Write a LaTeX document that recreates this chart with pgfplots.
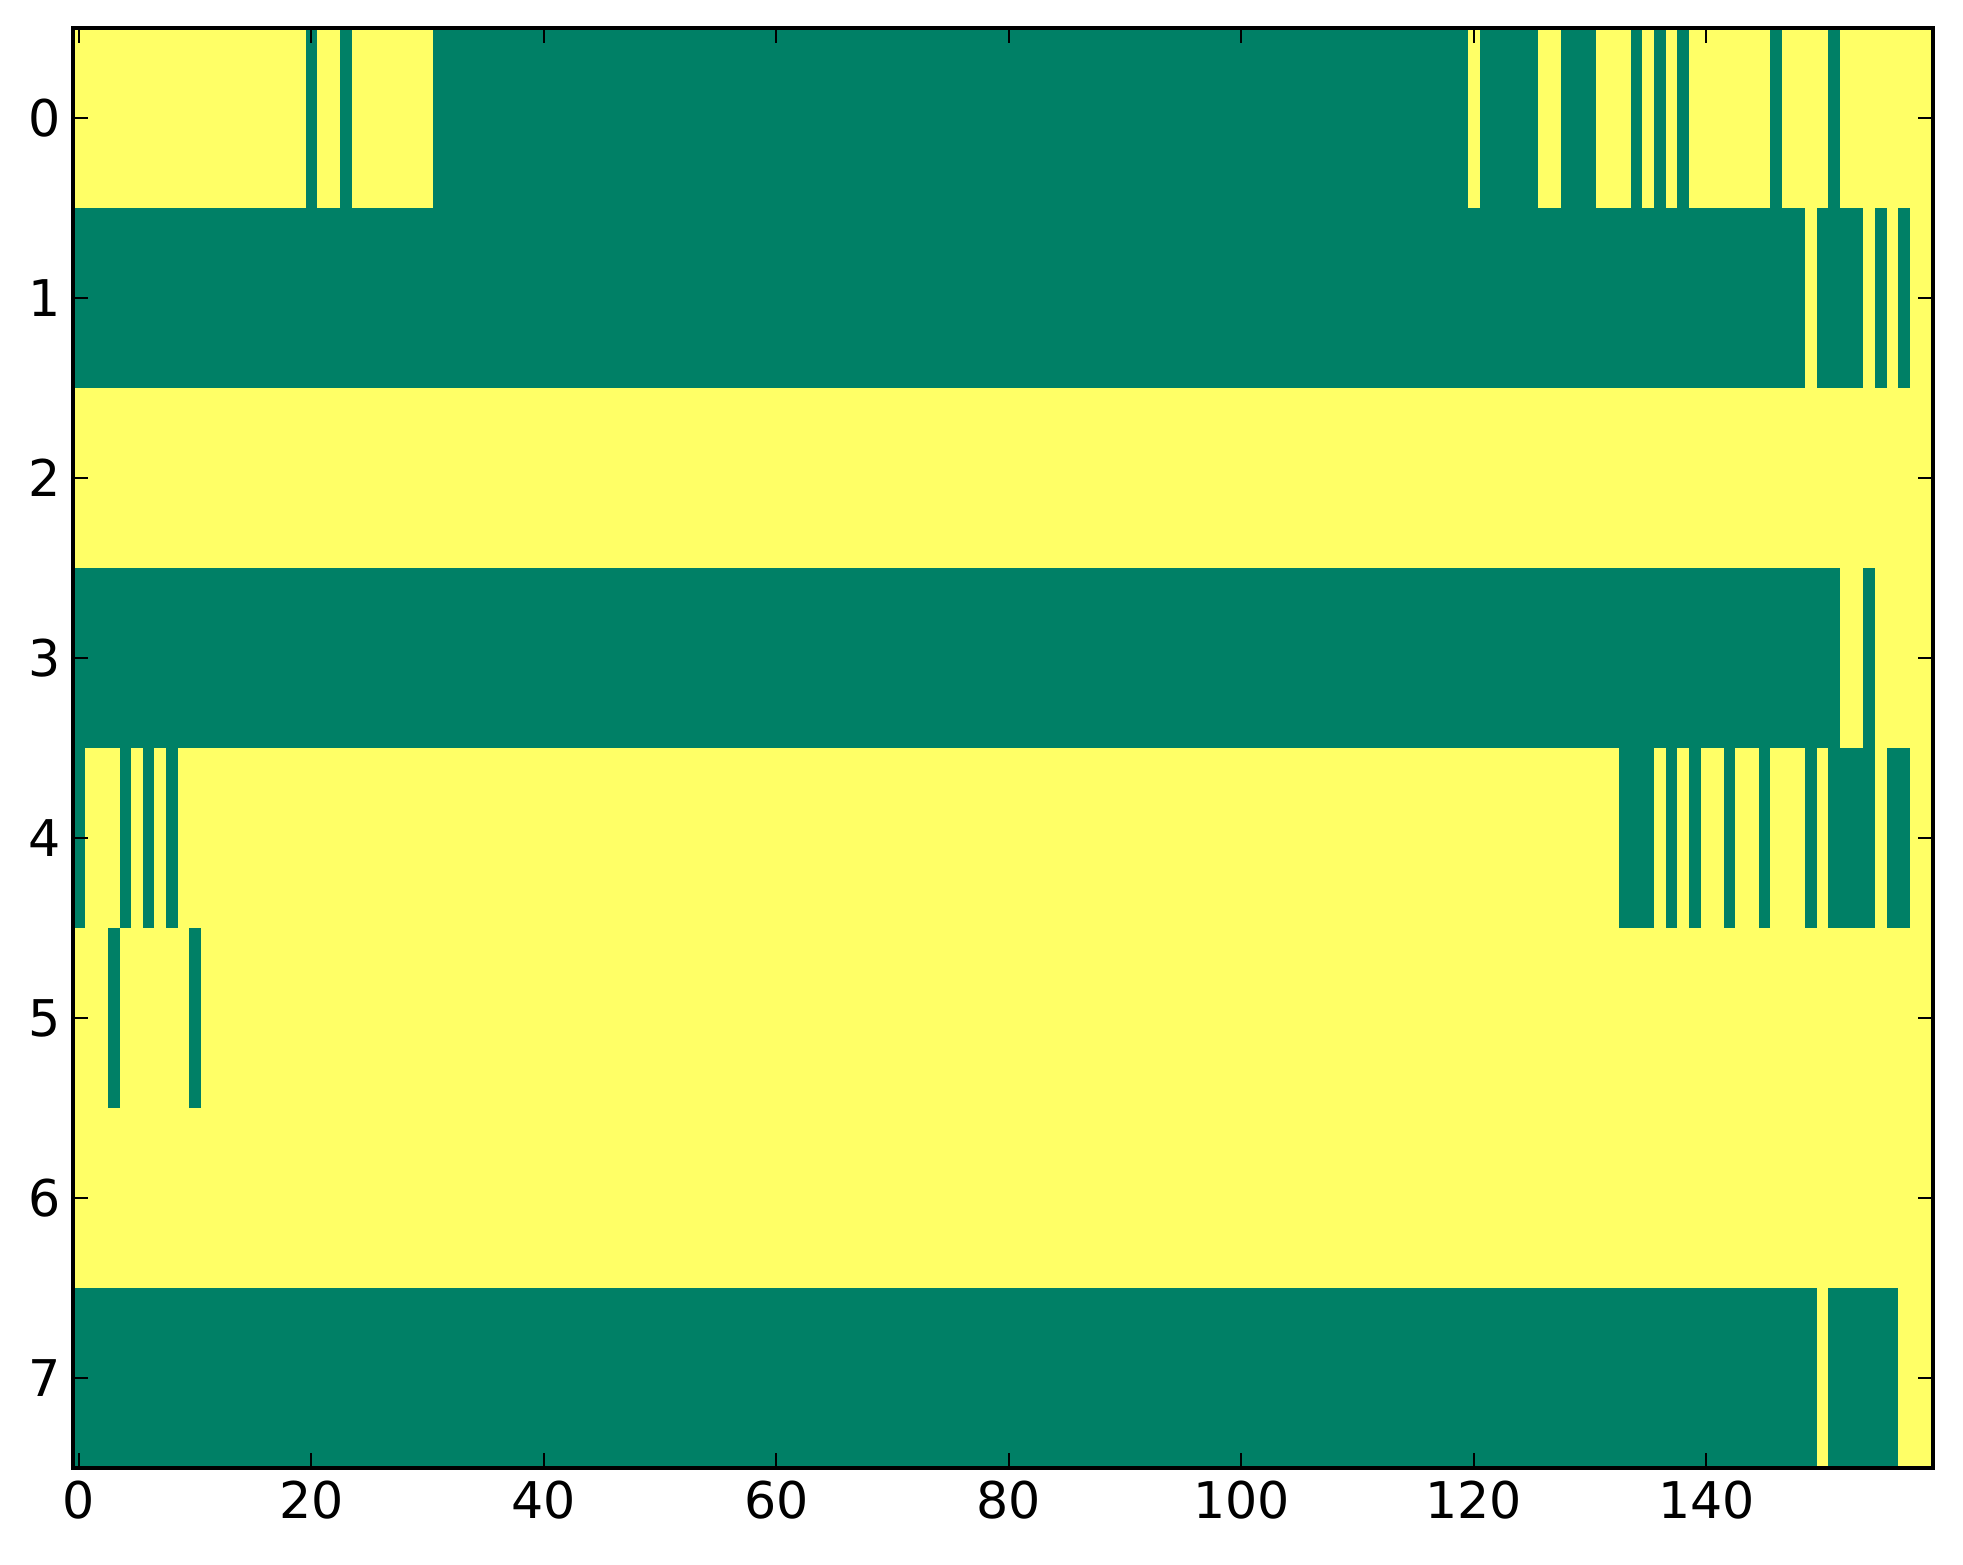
\documentclass[border=0pt]{standalone}
\usepackage{fontspec}
\setmainfont{DejaVu Sans}
\usepackage{pgfplots}
\pgfplotsset{compat=1.18}
\usetikzlibrary{calc}
\definecolor{sgreen}{rgb}{0,0.5,0.4}
\definecolor{syellow}{rgb}{1,1,0.4}
\begin{document}
\begin{tikzpicture}
\begin{axis}[name=ax, scale only axis, width=186mm, height=144mm,
 xmin=-0.5, xmax=159.5, ymin=-0.5, ymax=7.5, y dir=reverse,
 xtick={0,20,...,140}, ytick={0,...,7},
 tick align=inside, major tick length=1.5mm,
 every tick/.style={black, line width=0.2mm},
 axis line style={line width=0.4mm},
 tick label style={font=\fontsize{14.4}{17}\selectfont},
 /pgf/number format/assume math mode=true,
 axis on top,
 gr/.style={fill=sgreen, draw=none, forget plot}]
% background: value 1 everywhere else
\addplot[fill=syellow, draw=none, forget plot] coordinates {(-0.5,-0.5) (159.5,-0.5) (159.5,7.5) (-0.5,7.5)};
% row 0
\addplot[gr] coordinates {(19.5,-0.5) (20.5,-0.5) (20.5,0.5) (19.5,0.5)};
\addplot[gr] coordinates {(22.5,-0.5) (23.5,-0.5) (23.5,0.5) (22.5,0.5)};
\addplot[gr] coordinates {(30.5,-0.5) (119.5,-0.5) (119.5,0.5) (30.5,0.5)};
\addplot[gr] coordinates {(120.5,-0.5) (125.5,-0.5) (125.5,0.5) (120.5,0.5)};
\addplot[gr] coordinates {(127.5,-0.5) (130.5,-0.5) (130.5,0.5) (127.5,0.5)};
\addplot[gr] coordinates {(133.5,-0.5) (134.5,-0.5) (134.5,0.5) (133.5,0.5)};
\addplot[gr] coordinates {(135.5,-0.5) (136.5,-0.5) (136.5,0.5) (135.5,0.5)};
\addplot[gr] coordinates {(137.5,-0.5) (138.5,-0.5) (138.5,0.5) (137.5,0.5)};
\addplot[gr] coordinates {(145.5,-0.5) (146.5,-0.5) (146.5,0.5) (145.5,0.5)};
\addplot[gr] coordinates {(150.5,-0.5) (151.5,-0.5) (151.5,0.5) (150.5,0.5)};
% row 1
\addplot[gr] coordinates {(-0.5,0.5) (148.5,0.5) (148.5,1.5) (-0.5,1.5)};
\addplot[gr] coordinates {(149.5,0.5) (153.5,0.5) (153.5,1.5) (149.5,1.5)};
\addplot[gr] coordinates {(154.5,0.5) (155.5,0.5) (155.5,1.5) (154.5,1.5)};
\addplot[gr] coordinates {(156.5,0.5) (157.5,0.5) (157.5,1.5) (156.5,1.5)};
% row 3
\addplot[gr] coordinates {(-0.5,2.5) (151.5,2.5) (151.5,3.5) (-0.5,3.5)};
\addplot[gr] coordinates {(153.5,2.5) (154.5,2.5) (154.5,3.5) (153.5,3.5)};
% row 4
\addplot[gr] coordinates {(-0.5,3.5) (0.5,3.5) (0.5,4.5) (-0.5,4.5)};
\addplot[gr] coordinates {(3.5,3.5) (4.5,3.5) (4.5,4.5) (3.5,4.5)};
\addplot[gr] coordinates {(5.5,3.5) (6.5,3.5) (6.5,4.5) (5.5,4.5)};
\addplot[gr] coordinates {(7.5,3.5) (8.5,3.5) (8.5,4.5) (7.5,4.5)};
\addplot[gr] coordinates {(132.5,3.5) (135.5,3.5) (135.5,4.5) (132.5,4.5)};
\addplot[gr] coordinates {(136.5,3.5) (137.5,3.5) (137.5,4.5) (136.5,4.5)};
\addplot[gr] coordinates {(138.5,3.5) (139.5,3.5) (139.5,4.5) (138.5,4.5)};
\addplot[gr] coordinates {(141.5,3.5) (142.5,3.5) (142.5,4.5) (141.5,4.5)};
\addplot[gr] coordinates {(144.5,3.5) (145.5,3.5) (145.5,4.5) (144.5,4.5)};
\addplot[gr] coordinates {(148.5,3.5) (149.5,3.5) (149.5,4.5) (148.5,4.5)};
\addplot[gr] coordinates {(150.5,3.5) (154.5,3.5) (154.5,4.5) (150.5,4.5)};
\addplot[gr] coordinates {(155.5,3.5) (157.5,3.5) (157.5,4.5) (155.5,4.5)};
% row 5
\addplot[gr] coordinates {(2.5,4.5) (3.5,4.5) (3.5,5.5) (2.5,5.5)};
\addplot[gr] coordinates {(9.5,4.5) (10.5,4.5) (10.5,5.5) (9.5,5.5)};
% row 7
\addplot[gr] coordinates {(-0.5,6.5) (149.5,6.5) (149.5,7.5) (-0.5,7.5)};
\addplot[gr] coordinates {(150.5,6.5) (156.5,6.5) (156.5,7.5) (150.5,7.5)};
\end{axis}
\pgfresetboundingbox
\useasboundingbox ($(ax.south west)+(-7.3mm,-9.6mm)$) rectangle ($(ax.north east)+(3mm,2.8mm)$);
\end{tikzpicture}
\end{document}
